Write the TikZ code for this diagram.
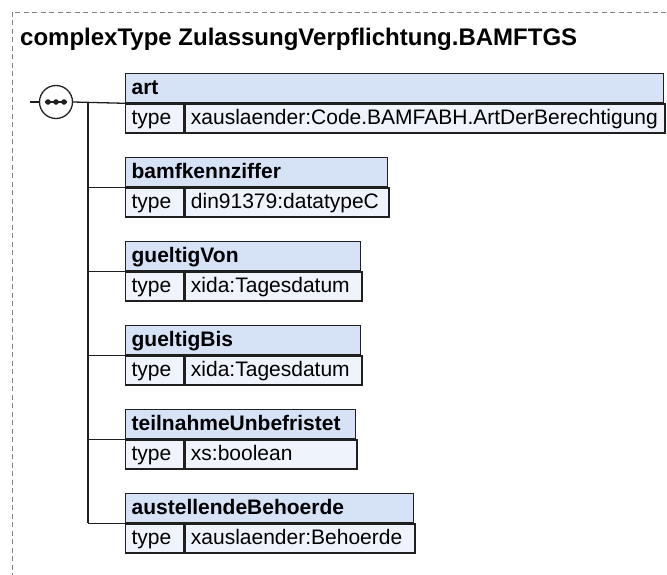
\documentclass[tikz,border=0pt]{standalone}
\usepackage{fontspec}
\setmainfont{Liberation Sans}
\usepackage{tikz}
\usepackage{xcolor}

\definecolor{headblue}{RGB}{214,227,247}
\definecolor{rowblue}{RGB}{238,243,252}
\definecolor{edgegray}{RGB}{32,32,32}
\definecolor{framegray}{RGB}{130,130,130}

\begin{document}
\begin{tikzpicture}[
    x=1pt,y=-1pt,
    head/.style={draw=edgegray,line width=1.3pt,fill=headblue,anchor=north west,minimum height=29pt,inner xsep=6pt,inner ysep=0pt,text height=15pt,text depth=3pt,align=left,font=\fontsize{21}{22}\selectfont\bfseries},
    cell/.style={draw=edgegray,line width=1.3pt,fill=rowblue,anchor=north west,minimum height=29pt,inner xsep=6pt,inner ysep=0pt,text height=15pt,text depth=3pt,align=left,font=\fontsize{21}{22}\selectfont},
    conn/.style={draw=edgegray,line width=1.3pt}
]
    \useasboundingbox (0,0) rectangle (667,575);
    % Frame and title
    \draw[framegray,line width=0.8pt,dash pattern=on 5pt off 3.5pt] (12,12) rectangle (700,620);
    \node[anchor=base west,inner sep=0pt,font=\fontsize{24}{26}\selectfont\bfseries] (title) at (20,46) {complexType ZulassungVerpflichtung.BAMFTGS};
    % Sequence compositor
    \coordinate (in) at (30,102);
    \coordinate (trunk) at (88,102);
    \node[draw=edgegray,line width=1.3pt,fill=white,circle,minimum size=33pt,inner sep=0pt] (seq) at (56,102) {};
    \draw[conn] (seq.center) ++(-11,0) -- ++(22,0);
    \foreach \dx in {-8,0,8}
        \fill[edgegray] (seq.center) ++(\dx,0) circle (2.8pt);
    % Elements
    \node[head,text width=526pt] (art) at (125,73) {art};
    \node[cell,text width=46pt] (artT) at (art.south west) {type};
    \node[cell,text width=468pt] (artV) at (artT.north east) {xauslaender:Code.BAMFABH.ArtDerBerechtigung};
    \node[head,text width=250pt] (bamf) at (125,157) {bamfkennziffer};
    \node[cell,text width=46pt] (bamfT) at (bamf.south west) {type};
    \node[cell,text width=192pt] (bamfV) at (bamfT.north east) {din91379:datatypeC};
    \node[head,text width=223pt] (von) at (125,241) {gueltigVon};
    \node[cell,text width=46pt] (vonT) at (von.south west) {type};
    \node[cell,text width=165pt] (vonV) at (vonT.north east) {xida:Tagesdatum};
    \node[head,text width=223pt] (bis) at (125,325) {gueltigBis};
    \node[cell,text width=46pt] (bisT) at (bis.south west) {type};
    \node[cell,text width=165pt] (bisV) at (bisT.north east) {xida:Tagesdatum};
    \node[head,text width=218pt] (teil) at (125,409) {teilnahmeUnbefristet};
    \node[cell,text width=46pt] (teilT) at (teil.south west) {type};
    \node[cell,text width=160pt] (teilV) at (teilT.north east) {xs:boolean};
    \node[head,text width=276pt] (aust) at (125,493) {austellendeBehoerde};
    \node[cell,text width=46pt] (austT) at (aust.south west) {type};
    \node[cell,text width=218pt] (austV) at (austT.north east) {xauslaender:Behoerde};
    % Connectors
    \draw[conn] (in) -- (seq.west);
    \draw[conn] (seq.east) -- (art.south west);
    \draw[conn] (trunk) -- (trunk |- aust.south west);
    \draw[conn] (trunk |- bamf.south west) -- (bamf.south west);
    \draw[conn] (trunk |- von.south west) -- (von.south west);
    \draw[conn] (trunk |- bis.south west) -- (bis.south west);
    \draw[conn] (trunk |- teil.south west) -- (teil.south west);
    \draw[conn] (trunk |- aust.south west) -- (aust.south west);
\end{tikzpicture}
\end{document}
